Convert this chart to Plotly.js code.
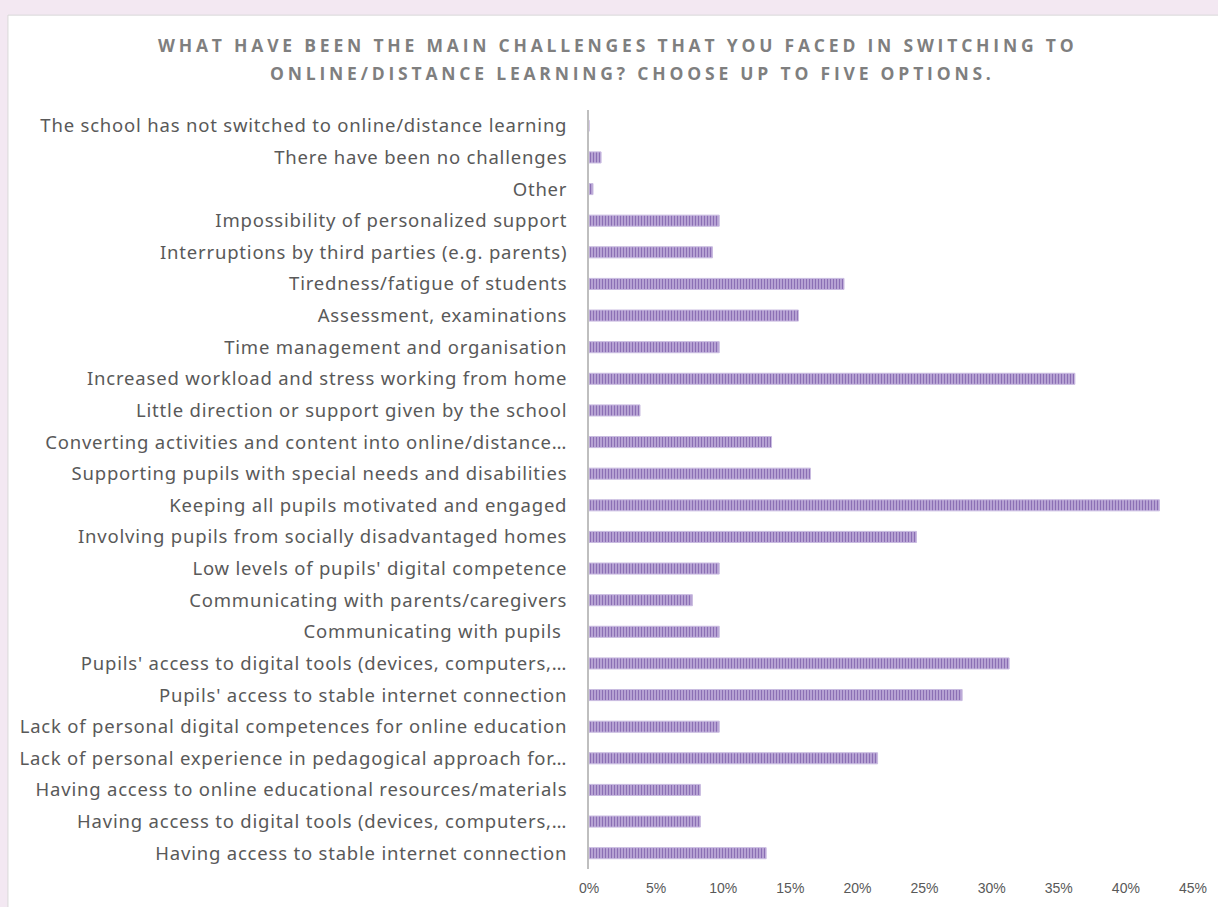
<!DOCTYPE html>
<html>
<head>
<meta charset="utf-8">
<script src="https://cdn.plot.ly/plotly-3.0.1.min.js"></script>
<style>
html,body{margin:0;padding:0;background:#f3e8f2;}
#chart{width:1218px;height:907px;}
.annotation-text{letter-spacing:3.8px;}
.ytick text{letter-spacing:0.8px;}
</style>
</head>
<body>
<div id="chart"></div>
<script>
const categories = [
  "Having access to stable internet connection",
  "Having access to digital tools (devices, computers,…",
  "Having access to online educational resources/materials",
  "Lack of personal experience in pedagogical approach for…",
  "Lack of personal digital competences for online education",
  "Pupils' access to stable internet connection",
  "Pupils' access to digital tools (devices, computers,…",
  "Communicating with pupils ",
  "Communicating with parents/caregivers",
  "Low levels of pupils' digital competence",
  "Involving pupils from socially disadvantaged homes",
  "Keeping all pupils motivated and engaged",
  "Supporting pupils with special needs and disabilities",
  "Converting activities and content into online/distance…",
  "Little direction or support given by the school",
  "Increased workload and stress working from home",
  "Time management and organisation",
  "Assessment, examinations",
  "Tiredness/fatigue of students",
  "Interruptions by third parties (e.g. parents)",
  "Impossibility of personalized support",
  "Other",
  "There have been no challenges",
  "The school has not switched to online/distance learning"
];
const shares = [
  0.132, 0.083, 0.083, 0.215, 0.097, 0.278, 0.313, 0.097, 0.077, 0.097,
  0.244, 0.425, 0.165, 0.136, 0.038, 0.362, 0.097, 0.156, 0.190, 0.092,
  0.097, 0.003, 0.009, 0.0
];
const titleLines = [
  "WHAT HAVE BEEN THE MAIN CHALLENGES THAT YOU FACED IN SWITCHING TO",
  "ONLINE/DISTANCE LEARNING? CHOOSE UP TO FIVE OPTIONS."
];
const tickValues = [0,0.05,0.10,0.15,0.20,0.25,0.30,0.35,0.40,0.45];
const tickLabels = ["0%","5%","10%","15%","20%","25%","30%","35%","40%","45%"];

const trace = {
  type: 'bar',
  orientation: 'h',
  y: categories,
  x: shares,
  marker: {
    color: '#bca9d8',
    pattern: {shape: '|', fgcolor: '#8b6fb4', bgcolor: '#c4b3de', size: 3, solidity: 0.5},
    line: {color: '#c9bbe0', width: 1}
  },
  hoverinfo: 'x+y'
};

const W = 604, H = 759, L = 589, T = 110;
const px = x => (x - L) / W;
const py = y => (T + H - y) / H;

const titleFont = {family: 'Open Sans', size: 17.5, color: '#7f7f7f', weight: 'bold'};

const layout = {
  width: 1218, height: 907,
  paper_bgcolor: '#f3e8f2',
  plot_bgcolor: '#ffffff',
  margin: {l: 589, r: 25, t: 110, b: 38},
  bargap: 0.65,
  showlegend: false,
  annotations: [
    {text: titleLines[0], xref: 'paper', yref: 'paper', x: px(617), y: py(45),
     xanchor: 'center', yanchor: 'middle', showarrow: false, font: titleFont},
    {text: titleLines[1], xref: 'paper', yref: 'paper', x: px(632), y: py(73),
     xanchor: 'center', yanchor: 'middle', showarrow: false, font: titleFont}
  ],
  xaxis: {
    range: [0, 0.45],
    tickvals: tickValues,
    ticktext: tickLabels,
    showgrid: false,
    zeroline: false,
    showline: false,
    ticks: '',
    ticklabelstandoff: 9,
    tickfont: {family: 'Liberation Sans Narrow, Liberation Sans', size: 14, color: '#595959'},
    fixedrange: true
  },
  yaxis: {
    type: 'category',
    categoryorder: 'array',
    categoryarray: categories,
    showgrid: false,
    zeroline: false,
    showline: true,
    linecolor: '#bfbfbf',
    linewidth: 2,
    ticks: '',
    ticklabelstandoff: 16,
    tickfont: {family: 'Noto Sans', size: 18.5, color: '#595959'},
    automargin: false,
    fixedrange: true
  },
  shapes: [{
    type: 'rect', xref: 'paper', yref: 'paper', layer: 'below',
    x0: -0.962, x1: 1.06, y0: -0.07, y1: 1.125,
    fillcolor: '#ffffff', line: {color: '#d9d9d9', width: 1}
  }]
};

Plotly.newPlot('chart', [trace], layout, {displayModeBar: false, staticPlot: true});
</script>
</body>
</html>
